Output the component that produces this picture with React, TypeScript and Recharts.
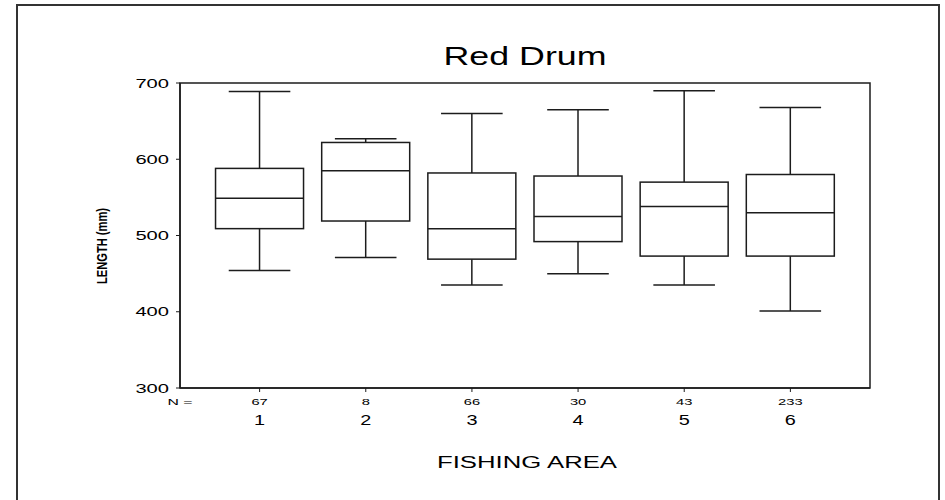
import React from "react";
import { ComposedChart, Bar, XAxis, YAxis, ReferenceArea } from "recharts";

// box plot values (mm)
const AREAS = [1, 2, 3, 4, 5, 6];
const N_COUNTS = [67, 8, 66, 30, 43, 233];
const WHISKER_LOW = [454, 471, 435, 450, 435, 401];
const Q1 = [509, 519, 469, 492, 473, 473];
const MEDIAN = [549, 585, 509, 525, 538, 530];
const Q3 = [588, 622, 582, 578, 570, 580];
const WHISKER_HIGH = [689, 627, 660, 665, 690, 668];
const Y_TICKS = [300, 400, 500, 600, 700];

const data = AREAS.map((area, i) => ({
  area,
  n: N_COUNTS[i],
  low: WHISKER_LOW[i],
  q1: Q1[i],
  median: MEDIAN[i],
  q3: Q3[i],
  high: WHISKER_HIGH[i],
}));

const INK = "#1c1c1c";
const FONT = "'Liberation Sans', Arial, sans-serif";
const STRETCH = 1.55;

function BoxShape(props: any) {
  const { x, y, width, height, payload } = props;
  if (!payload) return null;
  const { low, q1, median, q3, high } = payload;
  const top = Math.min(y, y + height);
  const k = Math.abs(height) / (high - low);
  const py = (v: number) => top + (high - v) * k;
  const cx = x + width / 2;
  const cap = width * 0.7;
  return (
    <g stroke={INK} strokeWidth={1.5} fill="none">
      <line x1={cx} x2={cx} y1={py(high)} y2={py(q3)} />
      <line x1={cx} x2={cx} y1={py(q1)} y2={py(low)} />
      <line x1={cx - cap / 2} x2={cx + cap / 2} y1={py(high)} y2={py(high)} />
      <line x1={cx - cap / 2} x2={cx + cap / 2} y1={py(low)} y2={py(low)} />
      <rect x={x} y={py(q3)} width={width} height={py(q1) - py(q3)} fill="#fff" />
      <line x1={x} x2={x + width} y1={py(median)} y2={py(median)} />
    </g>
  );
}

function YTick({ x, y, payload }: any) {
  return (
    <g transform={`translate(${x},${y})`}>
      <text
        transform={`scale(${STRETCH},1)`}
        textAnchor="end"
        dy="0.36em"
        fontSize={13}
        fontFamily={FONT}
        fill="#000"
      >
        {payload.value}
      </text>
    </g>
  );
}

function XTick({ x, y, payload }: any) {
  const n = N_COUNTS[AREAS.indexOf(payload.value)];
  return (
    <g transform={`translate(${x},${y})`}>
      <text
        transform={`translate(0,13) scale(${STRETCH},1)`}
        textAnchor="middle"
        fontSize={9.5}
        fontFamily={FONT}
        fill="#000"
      >
        {n}
      </text>
      <text
        transform={`translate(0,33) scale(1.42,1)`}
        textAnchor="middle"
        fontSize={14}
        fontFamily={FONT}
        fill="#000"
      >
        {payload.value}
      </text>
    </g>
  );
}

export default function App() {
  return (
    <div
      style={{
        position: "absolute",
        left: 0,
        top: 0,
        width: 945,
        height: 500,
        overflow: "hidden",
        background: "#fff",
        fontFamily: FONT,
      }}
    >
      {/* outer frame */}
      <div
        style={{
          position: "absolute",
          left: 16,
          top: 4,
          width: 924,
          height: 600,
          boxSizing: "border-box",
          border: "2px solid #333",
        }}
      />
      <div style={{ position: "absolute", left: 0, top: 0 }}>
        <ComposedChart
          width={945}
          height={500}
          data={data}
          margin={{ top: 83, right: 75, bottom: 82, left: 120 }}
        >
          <XAxis
            dataKey="area"
            type="number"
            domain={[0.25, 6.75]}
            ticks={AREAS}
            height={30}
            tickSize={4}
            tickMargin={0}
            tick={<XTick />}
            axisLine={{ stroke: INK, strokeWidth: 1.5 }}
            tickLine={{ stroke: INK, strokeWidth: 1 }}
            interval={0}
            allowDataOverflow
          />
          <YAxis
            type="number"
            domain={[300, 700]}
            ticks={Y_TICKS}
            width={60}
            tickSize={4}
            tickMargin={7}
            tick={<YTick />}
            axisLine={{ stroke: INK, strokeWidth: 1.5 }}
            tickLine={{ stroke: INK, strokeWidth: 1 }}
            allowDataOverflow
          />
          {/* plot frame: full x range, y domain */}
          <ReferenceArea
            y1={300}
            y2={700}
            fill="none"
            fillOpacity={0}
            stroke={INK}
            strokeWidth={1.5}
          />
          <Bar
            dataKey={(d: any) => [d.low, d.high]}
            barSize={88}
            shape={<BoxShape />}
            isAnimationActive={false}
          />
        </ComposedChart>
      </div>
      {/* titles */}
      <svg
        width={945}
        height={500}
        style={{ position: "absolute", left: 0, top: 0, pointerEvents: "none" }}
      >
        <text
          x={525}
          y={65}
          textAnchor="middle"
          fontSize={25}
          fontFamily={FONT}
          textLength={163}
          lengthAdjust="spacingAndGlyphs"
          fill="#000"
        >
          Red Drum
        </text>
        <text
          x={527}
          y={468}
          textAnchor="middle"
          fontSize={16}
          fontFamily={FONT}
          textLength={180}
          lengthAdjust="spacingAndGlyphs"
          fill="#000"
        >
          FISHING AREA
        </text>
        <text
          x={180}
          y={405}
          textAnchor="middle"
          fontSize={9.5}
          fontFamily={FONT}
          textLength={25}
          lengthAdjust="spacingAndGlyphs"
          fill="#000"
        >
          N =
        </text>
        <text
          transform="translate(107,246) rotate(-90)"
          textAnchor="middle"
          fontSize={15}
          fontWeight="bold"
          fontFamily={FONT}
          textLength={76}
          lengthAdjust="spacingAndGlyphs"
          fill="#000"
        >
          LENGTH (mm)
        </text>
      </svg>
    </div>
  );
}
